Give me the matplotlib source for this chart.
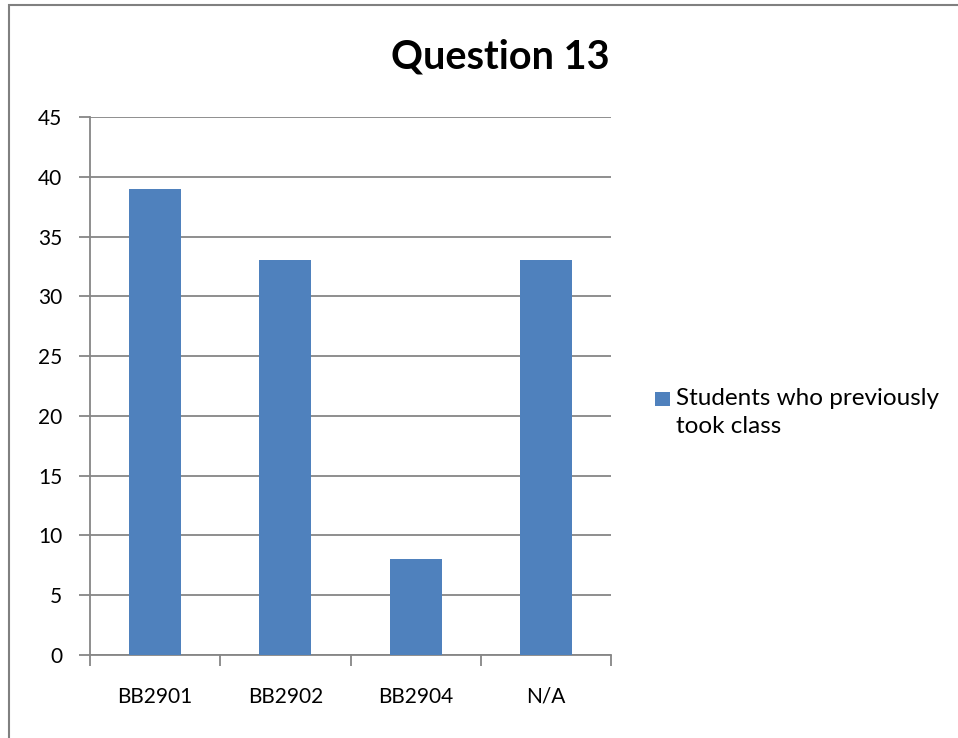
import matplotlib
matplotlib.use("Agg")
import matplotlib.pyplot as plt
from matplotlib.patches import Rectangle

categories = ["BB2901", "BB2902", "BB2904", "N/A"]
values = [39, 33, 8, 33]
series_name = "Students who previously\ntook class"
title = "Question 13"
yticks = [0, 5, 10, 15, 20, 25, 30, 35, 40, 45]

W, H = 958, 738
plt.rcParams['font.family'] = ['Lato', 'DejaVu Sans']
fig = plt.figure(figsize=(W / 100, H / 100), dpi=100)

ax = fig.add_axes([90 / W, (H - 655) / H, (611 - 90) / W, (655 - 117) / H])
grid_c = "#868686"
bar_c = "#4F81BD"

x = list(range(len(categories)))
ax.bar(x, values, width=0.4, color=bar_c, zorder=3, label=series_name)
ax.set_xlim(-0.5, len(categories) - 0.5)
ax.set_ylim(0, 45)
ax.set_yticks(yticks)
ax.yaxis.grid(True, color=grid_c, linewidth=1.3, zorder=0)
for s in ["top", "right"]:
    ax.spines[s].set_visible(False)
for s in ["left", "bottom"]:
    ax.spines[s].set_color(grid_c)
    ax.spines[s].set_linewidth(1.3)
ax.tick_params(axis="y", length=8, color=grid_c, width=1.3, labelsize=15, pad=12)
ax.set_xticks([i - 0.5 for i in range(len(categories) + 1)])
ax.set_xticklabels([])
ax.set_xticks(x, minor=True)
ax.set_xticklabels(categories, minor=True)
ax.tick_params(axis="x", which="major", length=8, color=grid_c, width=1.3)
ax.tick_params(axis="x", which="minor", length=0, labelsize=15, pad=23)

fig.text(500 / W, 1 - 69 / H, title, fontsize=28.5, fontweight="bold", ha="center", va="baseline")

# legend (manual, aligned to first line like the reference)
fig.add_artist(Rectangle((655 / W, 1 - 406 / H), 15 / W, 14 / H, transform=fig.transFigure,
                         facecolor=bar_c, edgecolor="none"))
fig.text(676 / W, 1 - 388 / H, series_name, fontsize=17.5, ha="left", va="top", linespacing=1.42)

fig.add_artist(Rectangle((8.5 / W, -0.1), 2, 1 + 0.1 - 5.5 / H, transform=fig.transFigure,
                         fill=False, edgecolor="#808080", linewidth=1.5))

fig.savefig("out.png", dpi=100)
